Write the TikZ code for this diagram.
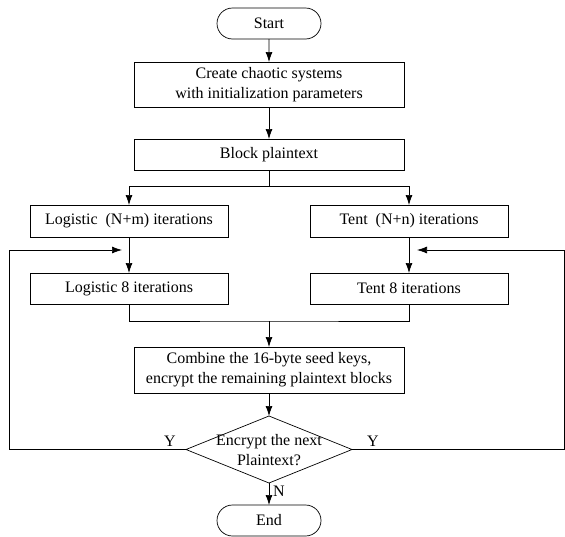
\documentclass[tikz,border=0pt]{standalone}
\usepackage{fontspec}
\setmainfont{Liberation Serif}
\usetikzlibrary{arrows.meta,shapes.misc,shapes.geometric}
\begin{document}
\begin{tikzpicture}[x=1pt,y=1pt,
  font=\fontsize{16}{20}\selectfont,
  line width=0.7pt,
  arr/.style={-{Latex[length=10pt,width=7pt]}},
  proc/.style={draw,rectangle,inner sep=0pt,outer sep=0pt,align=center},
  term/.style={draw,rounded rectangle,inner sep=0pt,outer sep=0pt,
    minimum width=104pt,minimum height=31pt},
  decide/.style={draw,diamond,inner sep=0pt,outer sep=0pt,
    minimum width=166pt,minimum height=67pt},
  lbl/.style={inner sep=0pt}]
\useasboundingbox (0,0) rectangle (565,-536);

% terminals and process boxes
\node[term] (start) at (269,-23.5) {Start};
\node[proc,minimum width=270pt,minimum height=45pt] (create) at (269,-84.5)
  {Create chaotic systems\\with initialization parameters};
\node[proc,minimum width=270pt,minimum height=31pt] (block) at (269,-154.5) {Block plaintext};
\node[proc,minimum width=198pt,minimum height=32pt] (log1) at (129,-221) {Logistic~ (N+m) iterations};
\node[proc,minimum width=198pt,minimum height=32pt] (tent1) at (409,-221) {Tent~ (N+n) iterations};
\node[proc,minimum width=198pt,minimum height=31pt] (log2) at (129,-288.5) {Logistic 8 iterations};
\node[proc,minimum width=198pt,minimum height=31pt] (tent2) at (409,-288.5) {Tent 8 iterations};
\node[proc,minimum width=270pt,minimum height=46pt] (comb) at (269,-370)
  {Combine the 16-byte seed keys,\\encrypt the remaining plaintext blocks};
\node[decide] (dec) at (269,-449.5) {};
\node[lbl,align=center] (dectext) at (269,-450) {Encrypt the next\\Plaintext?};
\node[term] (end) at (269,-520.5) {End};

% branch labels
\node[lbl] (yl) at (170,-441) {Y};
\node[lbl] (yr) at (373,-441) {Y};
\node[lbl] (nl) at (279,-491) {N};

% helper points for the loop-back lines
\coordinate (split) at (269,-186);
\coordinate (merge) at (269,-321);
\coordinate (lin) at (122,-250);
\coordinate (rin) at (417,-250);
\coordinate (lcorner) at (9,-449.5);
\coordinate (rcorner) at (564.5,-449.5);

% main flow
\draw[arr] (start) -- (create);
\draw[arr] (create) -- (block);
\draw (block.south) -- (split);
\draw[arr] (split) -| (log1.north);
\draw[arr] (split) -| (tent1.north);
\draw[arr] (log1) -- (log2);
\draw[arr] (tent1) -- (tent2);
\draw (log2.south) |- (merge) -| (tent2.south);
\draw[arr] (merge) -- (comb.north);
\draw[arr] (comb) -- (dec.north);
\draw[arr] (dec.south) -- (end.north);

% loops back for the next plaintext
\draw[arr] (dec.west) -- (lcorner) |- (lin);
\draw[arr] (dec.east) -- (rcorner) |- (rin);
\end{tikzpicture}
\end{document}
